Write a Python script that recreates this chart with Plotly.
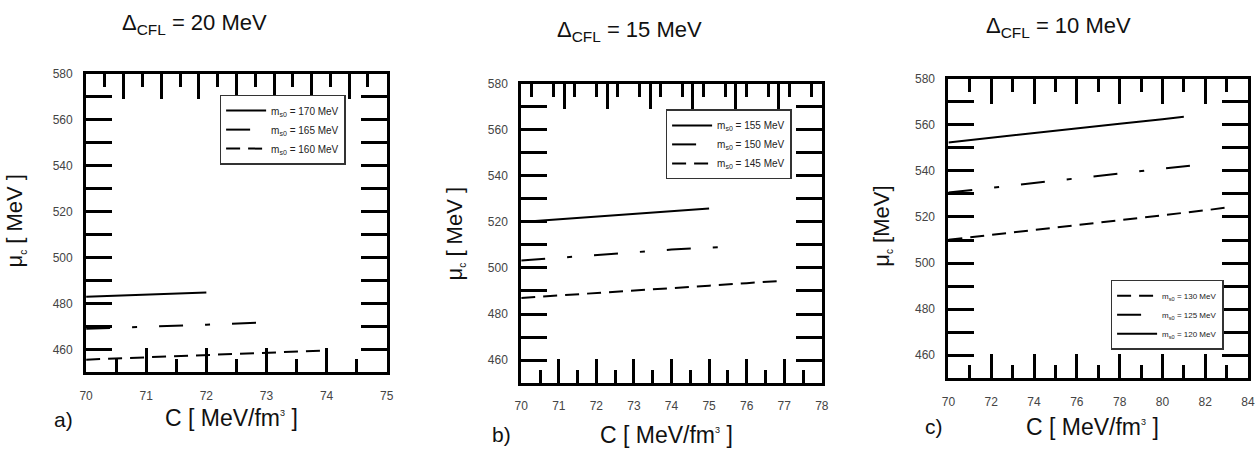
import plotly.graph_objects as go

W, H = 1259, 452

# ---------------- data ----------------
# panel a) Delta_CFL = 20 MeV
a_C_170 = [70, 71, 72]
a_mu_170 = [482.9, 483.8, 484.8]
a_C_165 = [70, 71, 72, 73]
a_mu_165 = [469.0, 469.8, 470.7, 471.8]
a_C_160 = [70, 71, 72, 73, 74]
a_mu_160 = [455.5, 456.5, 457.4, 458.5, 459.5]

# panel b) Delta_CFL = 15 MeV
b_C_155 = [70, 71, 72, 73, 74, 75]
b_mu_155 = [520.0, 521.2, 522.4, 523.6, 524.7, 525.8]
b_C_150 = [70, 71, 72, 73, 74, 75.4]
b_mu_150 = [503.2, 504.4, 505.6, 506.8, 508.0, 509.2]
b_C_145 = [70, 71, 72, 73, 74, 75, 76, 77]
b_mu_145 = [487.0, 488.0, 489.1, 490.2, 491.3, 492.3, 493.4, 494.5]

# panel c) Delta_CFL = 10 MeV
c_C_120 = [70, 72, 74, 76, 78, 80, 81]
c_mu_120 = [552.4, 554.5, 556.5, 558.5, 560.5, 562.5, 563.5]
c_C_125 = [70, 72, 74, 76, 78, 80, 81.3]
c_mu_125 = [530.6, 532.7, 534.7, 536.8, 538.9, 541.0, 542.3]
c_C_130 = [70, 72, 74, 76, 78, 80, 82, 83]
c_mu_130 = [510.1, 512.2, 514.3, 516.5, 518.6, 520.8, 522.9, 524.1]

titles = ["Δ<sub>CFL</sub> = 20 MeV", "Δ<sub>CFL</sub> = 15 MeV", "Δ<sub>CFL</sub> = 10 MeV"]
xtitle = "C [ MeV/fm<sup><span style='font-size:9px'>3</span></sup> ]"
ytitles = ["μ<sub><span style='font-size:10px'>c</span></sub> [ MeV ]",
           "μ<sub><span style='font-size:10px'>c</span></sub> [ MeV ]",
           "μ<sub><span style='font-size:10px'>c</span></sub> [MeV]"]
letters = ["a)", "b)", "c)"]

# --------------- helpers ---------------
def px(x):
    return x / W


def py(y):
    return 1 - y / H


FONT = "Liberation Sans, Arial, Helvetica, sans-serif"
SOLID = "solid"
DASH = "14px,8px"
DASHDOT = "24px,22px,5px,22px"

fig = go.Figure()

def add_line(x, y, name, dash, xa, ya, legend):
    fig.add_trace(go.Scatter(
        x=x, y=y, mode="lines", name=name,
        line=dict(color="black", width=2, dash=dash),
        xaxis=xa, yaxis=ya, legend=legend, legendgroup=name,
        hoverinfo="skip"))

ms = "m<sub>s0</sub> = %d MeV"
add_line(a_C_170, a_mu_170, ms % 170, SOLID, "x", "y", "legend")
add_line(a_C_165, a_mu_165, ms % 165, DASHDOT, "x", "y", "legend")
add_line(a_C_160, a_mu_160, ms % 160, DASH, "x", "y", "legend")

add_line(b_C_155, b_mu_155, ms % 155, SOLID, "x2", "y2", "legend2")
add_line(b_C_150, b_mu_150, ms % 150, DASHDOT, "x2", "y2", "legend2")
add_line(b_C_145, b_mu_145, ms % 145, DASH, "x2", "y2", "legend2")

add_line(c_C_130, c_mu_130, ms % 130, DASH, "x3", "y3", "legend3")
add_line(c_C_125, c_mu_125, ms % 125, DASHDOT, "x3", "y3", "legend3")
add_line(c_C_120, c_mu_120, ms % 120, SOLID, "x3", "y3", "legend3")

# invisible traces for top-tick overlay axes
for xa, ya in [("x4", "y"), ("x5", "y2"), ("x6", "y3")]:
    fig.add_trace(go.Scatter(x=[], y=[], xaxis=xa, yaxis=ya, showlegend=False, hoverinfo="skip"))

# panel geometry in pixels: left, right, top, bottom
panels = [(80, 384, 68, 371), (520, 824, 78, 382), (952, 1255, 73, 377)]
xranges = [[70, 75], [70, 78], [70, 84]]
xdt = [(1, 0.5), (1, 0.5), (2, 1)]
topdt = [(0.625, 0.3125), (8 / 7, 4 / 7), (2, 1)]

tickfont = dict(family=FONT, size=12, color="#444")
layout = dict(
    width=W, height=H, margin=dict(l=0, r=0, t=0, b=0),
    paper_bgcolor="white", plot_bgcolor="white",
    font=dict(family=FONT, color="black"),
    showlegend=True,
)

for i, ((l, r, t, b), xr, (xmaj, xmin), (tmaj, tmin)) in enumerate(zip(panels, xranges, xdt, topdt)):
    sfx = "" if i == 0 else str(i + 1)
    layout["xaxis" + sfx] = dict(
        domain=[px(l), px(r)], range=xr, anchor="y" + sfx,
        showgrid=False, zeroline=False,
        showline=True, linecolor="black", linewidth=3, mirror=True,
        ticks="inside", tick0=70, dtick=xmaj, ticklen=24, tickwidth=2.5, tickcolor="black",
        minor=dict(ticks="inside", dtick=xmin, ticklen=13, tickwidth=2.5, tickcolor="black", showgrid=False),
        tickfont=tickfont, ticklabelstandoff=10,
    )
    layout["yaxis" + sfx] = dict(
        domain=[py(b), py(t)], range=[450, 580], anchor="x" + sfx,
        showgrid=False, zeroline=False,
        showline=True, linecolor="black", linewidth=3, mirror="allticks",
        ticks="inside", tick0=460, dtick=20, ticklen=26, tickwidth=2.5, tickcolor="black",
        minor=dict(ticks="inside", dtick=10, ticklen=13, tickwidth=2.5, tickcolor="black", showgrid=False),
        tickfont=tickfont, ticklabelstandoff=8,
    )
    layout["xaxis" + str(i + 4)] = dict(
        overlaying="x" + sfx, side="top", anchor="y" + sfx, range=xr,
        showgrid=False, zeroline=False, showline=False, showticklabels=False,
        ticks="inside", tick0=70, dtick=tmaj, ticklen=25, tickwidth=2.5, tickcolor="black",
        minor=dict(ticks="inside", dtick=tmin, ticklen=13, tickwidth=2.5, tickcolor="black", showgrid=False),
    )

legpos = [(215, 89, 10), (666, 104, 10), (1116, 277, 8)]
for i, (lx, ly, fs) in enumerate(legpos):
    key = "legend" if i == 0 else "legend%d" % (i + 1)
    layout[key] = dict(
        x=px(lx), y=py(ly), xanchor="left", yanchor="top",
        bgcolor="white", bordercolor="#333", borderwidth=1.5,
        font=dict(family=FONT, size=fs, color="#222"), tracegroupgap=0, itemwidth=40,
    )

annotations = []

def ann(text, x, y, size, angle=0):
    annotations.append(dict(text=text, x=px(x), y=py(y), xref="paper", yref="paper",
                            xanchor="center", yanchor="middle", textangle=angle,
                            showarrow=False, font=dict(family=FONT, size=size, color="#111")))

title_pos = [(190, 17), (630, 24), (1063, 20)]
for (x, y), t in zip(title_pos, titles):
    ann(t, x, y, 22)
xt_pos = [(227, 417), (667, 435), (1098, 427)]
for x, y in xt_pos:
    ann(xtitle, x, y, 23)
let_pos = [(57, 419), (500, 434), (937, 426)]
for (x, y), t in zip(let_pos, letters):
    ann(t, x, y, 21)
yt_pos = [(9, 217), (453, 230), (885, 223)]
for (x, y), t in zip(yt_pos, ytitles):
    ann(t, x, y, 22, -90)
layout["annotations"] = annotations

fig.update_layout(**layout)
fig.write_html("out.html")
